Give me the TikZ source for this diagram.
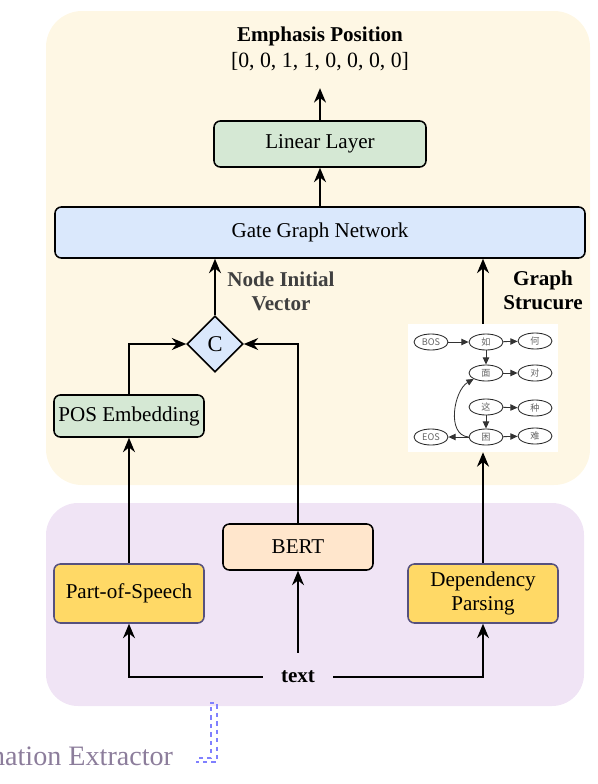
\documentclass[tikz,border=0pt]{standalone}
\usepackage{fontspec}
\setmainfont{Liberation Serif}
\newfontfamily\cjkfont{Noto Sans CJK SC}
\usepackage{tikz}
\usetikzlibrary{arrows.meta,calc,positioning,shapes.geometric}

\definecolor{panelyellow}{RGB}{254,247,228}
\definecolor{panelpurple}{RGB}{240,228,245}
\definecolor{greenbox}{RGB}{213,232,212}
\definecolor{bluebox}{RGB}{218,232,252}
\definecolor{peachbox}{RGB}{255,230,204}
\definecolor{goldbox}{RGB}{255,217,102}
\definecolor{goldline}{RGB}{86,81,126}
\definecolor{labelgray}{RGB}{64,64,64}
\definecolor{extractgray}{RGB}{140,125,155}
\definecolor{bracketblue}{RGB}{128,128,255}

\tikzset{
  block/.style={draw, line width=1.1pt, rounded corners=1.6mm, align=center,
    inner sep=0pt, font=\fontsize{15}{17}\selectfont},
  flow/.style={line width=1.2pt, -{Stealth[length=3.6mm,width=3mm]}},
  word/.style={draw=black!85, ellipse, line width=0.6pt, minimum width=8.5mm, minimum height=4mm,
    inner sep=0pt, text=black!60, font=\cjkfont\fontsize{6.5}{7}\selectfont},
  link/.style={black!80, line width=0.6pt, -{Triangle[length=1.8mm,width=1.6mm]}},
}

\begin{document}
\begin{tikzpicture}[x=0.25mm, y=-0.25mm]
    %% Background
    \useasboundingbox (0,0) rectangle (598,784);
    \clip (0,0) rectangle (598,784);
    \fill[panelyellow, rounded corners=9mm] (46,11) rectangle (590,485);
    \fill[panelpurple, rounded corners=8mm] (46,503) rectangle (584,706);

    %% Blocks
    \node[block, fill=greenbox, minimum width=53mm, minimum height=11.5mm] (linear) at (320,144) {Linear Layer};
    \node[block, fill=bluebox, minimum width=132.5mm, minimum height=12.75mm] (gate) at (320,232.5) {Gate Graph Network};
    \node[diamond, draw, fill=bluebox, line width=1.1pt, minimum width=14mm, minimum height=14mm,
      inner sep=0pt, font=\fontsize{16}{18}\selectfont] (cat) at (215,344) {C};
    \node[block, fill=greenbox, minimum width=37.5mm, minimum height=10.5mm] (posemb) at (129,416) {POS Embedding};
    \node[block, draw=goldline, fill=goldbox, minimum width=37.5mm, minimum height=14.75mm] (pos) at (129,593.5) {Part-of-Speech};
    \node[block, fill=peachbox, minimum width=37.5mm, minimum height=11.5mm] (bert) at (298,547) {BERT};
    \node[block, draw=goldline, fill=goldbox, minimum width=37.5mm, minimum height=14.75mm] (dep) at (483,593.5) {Dependency\\Parsing};
    \node[inner sep=4.5mm, font=\bfseries\fontsize{15}{17}\selectfont] (txt) at (298,677) {text};

    %% Labels
    \node[font=\bfseries\fontsize{15}{17}\selectfont] (emph) at (320,36) {Emphasis Position};
    \node[font=\fontsize{15.5}{17}\selectfont] (vec) at (320,62) {[0, 0, 1, 1, 0, 0, 0, 0]};
    \node[align=center, text=labelgray, font=\bfseries\fontsize{15}{17}\selectfont] (nodevec) at (281,291) {Node Initial\\Vector};
    \node[align=center, font=\bfseries\fontsize{15}{17}\selectfont] (graphlabel) at (543,290) {Graph\\Strucure};
    \node[anchor=east, text=extractgray, font=\fontsize{20}{22}\selectfont] (extractor) at (178,756) {Information Extractor};

    %% Graph structure
    \node[fill=white, minimum width=37.5mm, minimum height=32mm, inner sep=0pt] (graph) at (483,388) {};
    \node[word] (bos) at (431,342) {BOS};
    \node[word] (ru) at (486,342) {如};
    \node[word] (he) at (535,341) {何};
    \node[word] (mian) at (486,373) {面};
    \node[word] (dui) at (535,373) {对};
    \node[word] (zhe) at (486,407) {这};
    \node[word] (zhong) at (535,408) {种};
    \node[word] (eos) at (431,437) {EOS};
    \node[word] (kun) at (486,437) {困};
    \node[word] (nan) at (535,436) {难};
    \draw[link] (bos) -- (ru);
    \draw[link] (ru) -- (he);
    \draw[link] (ru) -- (mian);
    \draw[link] (mian) -- (dui);
    \draw[link] (zhe) -- (zhong);
    \draw[link] (zhe) -- (kun);
    \draw[link] (kun) -- (nan);
    \draw[link] (kun) -- (eos);
    \draw[link] (kun.west) to[out=175, in=210] (mian.south west);

    %% Arrows
    \draw[flow] (txt.west) -| (pos.south);
    \draw[flow] (txt.east) -| (dep.south);
    \draw[flow] (txt.north) -- (bert.south);
    \draw[flow] (pos.north) -- (posemb.south);
    \draw[flow] (posemb.north) |- (cat.west);
    \draw[flow] (bert.north) |- (cat.east);
    \draw[flow] (cat.north) -- (cat.north |- gate.south);
    \draw[flow] (dep.north) -- (graph.south);
    \draw[flow] (graph.north) -- (graph.north |- gate.south);
    \draw[flow] (gate.north) -- (linear.south);
    \draw[flow, shorten >=3mm] (linear.north) -- (vec.south);

    %% Bracket
    \draw[bracketblue, dashed, line width=0.8pt] (210,703) -- (217,703) -- (217,762) -- (196,762);
    \draw[bracketblue, dashed, line width=0.8pt] (211,707) -- (211,758) -- (196,758);
\end{tikzpicture}
\end{document}
